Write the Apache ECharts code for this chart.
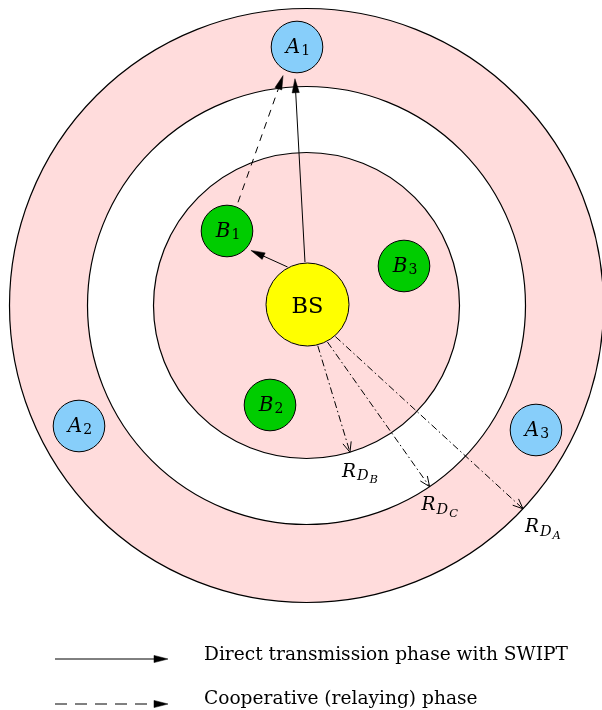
<!DOCTYPE html>
<html><head><meta charset="utf-8">
<script src="https://cdn.jsdelivr.net/npm/echarts@6/dist/echarts.min.js"></script>
<style>html,body{margin:0;padding:0;background:#fff}#c{width:602px;height:710px}</style>
</head><body><div id="c"></div>
<script>
// ---- DATA (units: diagram units, origin = common centre of the coverage circles, y up) ----
const ringNames   = ['A', 'C', 'B'];           // R_{D_A}, R_{D_C}, R_{D_B}
const ringRadius  = [297, 219, 153];
const ringAngle   = [-43.2, -55.8, -73.5];     // direction of the radius arrow (deg)
const ringStart   = [-49, -62, -76];           // where the radius arrow leaves BS (deg on BS rim)

const nodeNames = ['BS', 'A1', 'A2', 'A3', 'B1', 'B2', 'B3'];
const nodeKind  = ['BS', 'A', 'A', 'A', 'B', 'B', 'B'];
const nodeX     = [1, -9.5, -227.5, 229.5, -79.5, -36.5, 97.5];
const nodeY     = [1, 258.5, -120.5, -124.5, 74.5, -99.5, 39.5];

const edgeFrom      = ['BS', 'BS', 'B1'];
const edgeTo        = ['A1', 'B1', 'A1'];
const edgeKind      = ['direct', 'direct', 'cooperative'];
const edgeFromAngle = [93.4, 118, 69];
const edgeToAngle   = [-93.7, -39, -116];

const legendLabels = ['Direct transmission phase with SWIPT', 'Cooperative (relaying) phase'];
const legendKinds  = ['direct', 'cooperative'];

// ---- STYLE ----
const FONT = 'DejaVu Serif';
const STYLE = {
  ringFill: ['#ffdcdc', '#ffffff', '#ffdcdc'],
  nodeFill: { BS: '#ffff00', A: '#87cefa', B: '#00cc00' },
  nodeRadius: { BS: 41.5, A: 25.8, B: 25.8 },
  nodePad: { BS: 1, A: 6, B: 5 },
  dash: { direct: null, cooperative: [7, 6], radius: [7, 3, 1.5, 3] },
  labelDx: [2, -8, -8],
  labelDy: [9, 9, 10]
};
const deg = Math.PI / 180;

function arrow(p0, p1, head, dash) {
  const dx = p1[0] - p0[0], dy = p1[1] - p0[1], L = Math.hypot(dx, dy);
  const ux = dx / L, uy = dy / L;
  const len = head === 'filled' ? 14 : 10, half = head === 'filled' ? 3.6 : 4.3;
  const bx = p1[0] - ux * len, by = p1[1] - uy * len;
  const l = [bx - uy * half, by + ux * half], r = [bx + uy * half, by - ux * half];
  const end = head === 'filled' ? [p1[0] - ux * len * 0.8, p1[1] - uy * len * 0.8] : p1;
  const ch = [{ type: 'line', shape: { x1: p0[0], y1: p0[1], x2: end[0], y2: end[1] },
    style: { stroke: '#000', lineWidth: 1, lineDash: dash || null, fill: null } }];
  if (head === 'filled') {
    ch.push({ type: 'polygon', shape: { points: [p1, l, r] }, style: { fill: '#000', stroke: '#000', lineWidth: 0.5 } });
  } else {
    ch.push({ type: 'polyline', shape: { points: [l, p1, r] }, style: { stroke: '#000', lineWidth: 1, fill: null } });
  }
  return ch;
}

function nodeLabel(name) {
  if (name === 'BS') return { text: 'BS', rich: null };
  return { text: '{m|' + name[0] + '}{s|' + name.slice(1) + '}', rich: {
    m: { fontFamily: FONT, fontStyle: 'italic', fontSize: 20, verticalAlign: 'top', padding: [0, 1, 0, 0] },
    s: { fontFamily: FONT, fontSize: 14, verticalAlign: 'top', padding: [6, 0, 0, 0] }
  } };
}

const chart = echarts.init(document.getElementById('c'), null, { renderer: 'canvas' });
const legendGraphics = [];
legendLabels.forEach((lab, i) => {
  const y = [659, 704][i];
  const ty = [655, 699][i];
  arrow([55, y], [168, y], 'filled', STYLE.dash[legendKinds[i]] ? [12, 8] : null)
    .forEach(e => legendGraphics.push(e));
  legendGraphics.push({ type: 'text', x: 204, y: ty,
    style: { text: lab, fontFamily: FONT, fontSize: 18.6, fill: '#000', verticalAlign: 'middle', align: 'left' } });
});

chart.setOption({
  animation: false,
  grid: { left: 0, right: 0, top: 0, bottom: 0 },
  xAxis: { type: 'value', min: -306.5, max: 295.5, show: false },
  yAxis: { type: 'value', min: -404.5, max: 305.5, show: false },
  graphic: legendGraphics,
  series: [
    { type: 'custom', coordinateSystem: 'cartesian2d', silent: true, z: 1,
      data: ringRadius.map(r => [0, 0, r]),
      renderItem(params, api) {
        const i = params.dataIndex;
        const c = api.coord([api.value(0), api.value(1)]);
        const r = api.size([api.value(2), 0])[0];
        return { type: 'circle', shape: { cx: c[0], cy: c[1], r },
          style: { fill: STYLE.ringFill[i], stroke: '#000', lineWidth: 1.2 } };
      } },
    { type: 'custom', coordinateSystem: 'cartesian2d', silent: true, z: 2,
      data: ringRadius.map((r, i) => [ringStart[i], ringAngle[i], r]),
      renderItem(params, api) {
        const i = params.dataIndex;
        const bs = nodeNames.indexOf('BS');
        const a0 = api.value(0) * deg, a1 = api.value(1) * deg, R = api.value(2);
        const d0 = STYLE.nodeRadius.BS + 1;
        const p0 = api.coord([nodeX[bs] + d0 * Math.cos(a0), nodeY[bs] + d0 * Math.sin(a0)]);
        const p1 = api.coord([R * Math.cos(a1), R * Math.sin(a1)]);
        const ch = arrow(p0, p1, 'open', STYLE.dash.radius);
        ch.push({ type: 'text', x: p1[0] + STYLE.labelDx[i], y: p1[1] + STYLE.labelDy[i],
          style: { text: '{r|R}{d|D}{b|' + ringNames[i] + '}', align: 'left', verticalAlign: 'top', fill: '#000',
            rich: {
              r: { fontFamily: FONT, fontStyle: 'italic', fontSize: 18.5, verticalAlign: 'top', padding: [0, 1, 0, 0] },
              d: { fontFamily: FONT, fontStyle: 'italic', fontSize: 14.5, verticalAlign: 'top', padding: [7, 1, 0, 0] },
              b: { fontFamily: FONT, fontStyle: 'italic', fontSize: 11.5, verticalAlign: 'top', padding: [12, 0, 0, 0] }
            } } });
        return { type: 'group', children: ch };
      } },
    { type: 'custom', coordinateSystem: 'cartesian2d', silent: true, z: 3,
      data: edgeFrom.map((f, i) => [i]),
      renderItem(params, api) {
        const i = params.dataIndex;
        const s = nodeNames.indexOf(edgeFrom[i]), t = nodeNames.indexOf(edgeTo[i]);
        const ks = nodeKind[s], kt = nodeKind[t];
        const d0 = STYLE.nodeRadius[ks] + STYLE.nodePad[ks], d1 = STYLE.nodeRadius[kt] + STYLE.nodePad[kt];
        const a0 = edgeFromAngle[i] * deg, a1 = edgeToAngle[i] * deg;
        const p0 = api.coord([nodeX[s] + d0 * Math.cos(a0), nodeY[s] + d0 * Math.sin(a0)]);
        const p1 = api.coord([nodeX[t] + d1 * Math.cos(a1), nodeY[t] + d1 * Math.sin(a1)]);
        return { type: 'group', children: arrow(p0, p1, 'filled', STYLE.dash[edgeKind[i]]) };
      } },
    { type: 'custom', coordinateSystem: 'cartesian2d', silent: true, z: 4,
      data: nodeX.map((x, i) => [x, nodeY[i]]),
      renderItem(params, api) {
        const i = params.dataIndex;
        const k = nodeKind[i];
        const c = api.coord([api.value(0), api.value(1)]);
        const r = api.size([STYLE.nodeRadius[k], 0])[0];
        const lab = nodeLabel(nodeNames[i]);
        const ts = lab.rich
          ? { text: lab.text, rich: lab.rich, align: 'center', verticalAlign: 'middle', fill: '#000' }
          : { text: lab.text, fontFamily: FONT, fontSize: 22.5, align: 'center', verticalAlign: 'middle', fill: '#000' };
        return { type: 'group', children: [
          { type: 'circle', shape: { cx: c[0], cy: c[1], r }, style: { fill: STYLE.nodeFill[k], stroke: '#000', lineWidth: 1 } },
          { type: 'text', x: c[0] + (lab.rich ? 1 : 0), y: c[1] + (lab.rich ? 1 : 3), style: ts }
        ] };
      } }
  ]
});
</script>
</body></html>
